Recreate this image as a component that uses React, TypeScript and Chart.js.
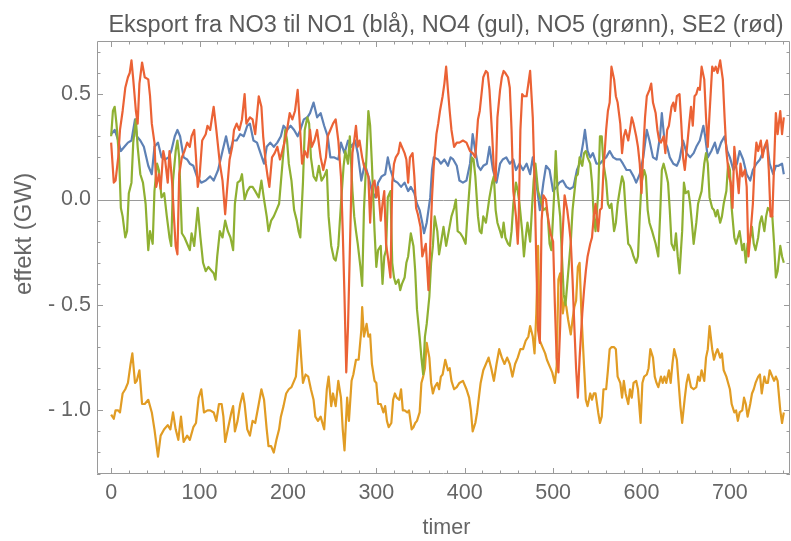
import React, { useEffect, useRef } from 'react';
import { Chart, registerables } from 'chart.js';

Chart.register(...registerables);

const chartTitle = 'Eksport fra NO3 til NO1 (blå), NO4 (gul), NO5 (grønn), SE2 (rød)';
const xAxisTitle = 'timer';
const yAxisTitle = 'effekt (GW)';
const xMajorTicks = [0, 100, 200, 300, 400, 500, 600, 700];
const yMajorTicks = [-1.0, -0.5, 0.0, 0.5];

// [hour, GW]
const NO1: [number, number][] = [
  [0,0.31],[4,0.33],[8,0.28],[11,0.23],[15,0.25],[19,0.27],[23,0.28],[27,0.38],[29,0.3],[33,0.28],[37,0.25],[42,0.16],[46,0.12],[49,0.25],[53,0.27],[57,0.2],[61,0.19],[65,0.2],[68,0.23],[72,0.3],[75,0.33],[78,0.3],[82,0.2],[86,0.19],[89,0.17],[93,0.16],[97,0.11],[102,0.08],[107,0.09],[112,0.11],
  [116,0.09],[121,0.14],[126,0.23],[130,0.3],[134,0.22],[138,0.28],[142,0.28],[146,0.31],[150,0.3],[154,0.35],[157,0.36],[161,0.28],[165,0.27],[169,0.22],[173,0.17],[176,0.25],[180,0.27],[184,0.25],[188,0.27],[192,0.3],[195,0.35],[199,0.33],[203,0.35],[207,0.33],[211,0.3],[214,0.33],[218,0.38],[222,0.39],[225,0.41],[229,0.46],[233,0.39],[237,0.41],[241,0.35],[245,0.3],[248,0.2],[252,0.2],
  [257,0.19],[260,0.27],[264,0.22],[268,0.28],[272,0.25],[276,0.28],[279,0.22],[283,0.09],[287,0.17],[291,0.11],[295,0.04],[299,0.01],[302,0.08],[306,0.11],[310,0.12],[313,0.2],[316,0.14],[320,0.09],[324,0.08],[328,0.06],[332,0.08],[336,0.04],[339,0.06],[343,0.03],[346,-0.02],[349,-0.05],[352,-0.11],[354,-0.16],[357,-0.11],[361,0.01],[363,0.14],[365,0.2],[370,0.19],[373,0.17],[377,0.19],[381,0.16],[384,0.2],
  [387,0.19],[391,0.16],[394,0.09],[398,0.08],[402,0.09],[406,0.17],[409,0.31],[412,0.23],[415,0.16],[418,0.14],[421,0.16],[425,0.17],[428,0.25],[432,0.14],[436,0.08],[440,0.17],[443,0.19],[447,0.2],[451,0.17],[455,0.19],[458,0.14],[462,0.17],[466,0.14],[470,0.17],[474,0.12],[477,0.2],[481,0.08],[485,-0.05],[489,0.08],[492,0.16],[496,0.14],[500,0.04],[504,0.06],[507,0.08],[511,0.09],[515,0.06],[519,0.05],
  [523,0.06],[527,0.14],[530,0.17],[534,0.27],[536,0.33],[539,0.23],[542,0.2],[545,0.22],[549,0.17],[553,0.17],[557,0.19],[560,0.2],[564,0.23],[568,0.2],[572,0.19],[576,0.19],[579,0.17],[583,0.14],[587,0.14],[591,0.11],[594,0.08],[598,0.12],[602,0.2],[606,0.33],[609,0.28],[613,0.2],[617,0.19],[621,0.3],[623,0.41],[626,0.28],[629,0.25],[632,0.2],[636,0.17],[640,0.16],[643,0.19],[647,0.28],[651,0.22],[655,0.2],
  [659,0.22],[662,0.25],[666,0.28],[670,0.35],[672,0.3],[675,0.2],[679,0.23],[683,0.27],[686,0.22],[690,0.27],[694,0.3],[697,0.23],[700,0.2],[704,0.14],[708,0.17],[711,0.23],[715,0.19],[719,0.12],[723,0.09],[726,0.14],[730,0.17],[734,0.19],[738,0.23],[742,0.27],[745,0.17],[749,0.12],[752,0.16],[755,0.16],[759,0.17],[761,0.12],
];

const NO4: [number, number][] = [
  [0,-1.02],[3,-1.04],[5,-1.0],[8,-1.0],[10,-1.01],[13,-0.92],[16,-0.9],[19,-0.87],[22,-0.78],[24,-0.73],[27,-0.87],[29,-0.86],[32,-0.81],[35,-0.97],[38,-0.97],[42,-0.95],[46,-1.01],[49,-1.09],[53,-1.22],[56,-1.12],[60,-1.09],[64,-1.07],[67,-1.09],[70,-1.01],[73,-1.09],[76,-1.14],[79,-1.03],[82,-1.15],[86,-1.12],[89,-1.14],[93,-1.08],[96,-1.06],[99,-0.94],[102,-0.9],[105,-1.01],[109,-1.0],[112,-1.0],
  [116,-1.01],[119,-1.05],[122,-0.97],[125,-0.97],[127,-1.03],[129,-1.15],[132,-1.09],[136,-1.01],[138,-0.98],[140,-1.1],[143,-1.05],[146,-0.97],[149,-0.92],[151,-0.97],[154,-1.09],[157,-1.12],[160,-1.05],[163,-1.06],[167,-0.97],[170,-0.9],[173,-0.95],[176,-1.09],[178,-1.17],[181,-1.17],[184,-1.2],[187,-1.14],[190,-1.09],[192,-1.03],[195,-0.98],[198,-0.92],[201,-0.9],[204,-0.89],[207,-0.86],[209,-0.84],[211,-0.73],[213,-0.62],[215,-0.75],[217,-0.87],[220,-0.83],[223,-0.84],[226,-0.9],[229,-0.95],[231,-1.03],[234,-1.05],[237,-1.03],[241,-1.09],[244,-0.9],[246,-0.84],[249,-0.98],
  [251,-0.92],[254,-0.98],[257,-0.86],[260,-0.94],[262,-1.09],[264,-1.19],[267,-0.94],[269,-1.05],[272,-0.86],[274,-0.83],[277,-0.76],[280,-0.76],[283,-0.62],[284,-0.51],[286,-0.65],[289,-0.59],[291,-0.65],[293,-0.64],[295,-0.78],[298,-0.86],[300,-0.87],[302,-0.97],[305,-0.97],[308,-1.01],[310,-0.98],[312,-1.05],[314,-1.08],[317,-1.06],[319,-0.95],[321,-0.92],[323,-0.94],[326,-0.95],[328,-0.9],[330,-1.0],[332,-1.0],[335,-1.01],[337,-1.0],[340,-1.09],[342,-1.08],[344,-1.06],[346,-1.05],[349,-1.01],[351,-0.87],[353,-0.84],[355,-0.8],[357,-0.68],[360,-0.75],[362,-0.87],[364,-0.92],[366,-0.89],[369,-0.87],[371,-0.9],[373,-0.84],[375,-0.83],[378,-0.76],[381,-0.81],[383,-0.8],[385,-0.86],[388,-0.9],
  [391,-0.89],[394,-0.87],[398,-0.86],[402,-0.9],[405,-0.94],[407,-1.0],[409,-1.1],[412,-1.06],[414,-1.01],[416,-0.94],[418,-0.87],[421,-0.81],[424,-0.78],[427,-0.75],[430,-0.8],[433,-0.86],[436,-0.78],[439,-0.71],[442,-0.75],[445,-0.78],[448,-0.75],[451,-0.78],[454,-0.84],[457,-0.78],[460,-0.75],[463,-0.71],[466,-0.71],[469,-0.67],[472,-0.65],[474,-0.6],[477,-0.65],[479,-0.73],[481,-0.54],[483,-0.22],[485,-0.67],[488,-0.7],[491,-0.73],[493,-0.76],[496,-0.79],[499,-0.82],[502,-0.87],[504,-0.79],[506,-0.38],[508,-0.35],[511,-0.54],[513,-0.48],[515,-0.51],[517,-0.57],[520,-0.64],[522,-0.57],[524,-0.51],[526,-0.48],[528,-0.32],[530,-0.3],[532,-0.54],[535,-0.79],[537,-0.95],[539,-0.98],
  [542,-0.92],[544,-0.95],[546,-0.92],[548,-0.92],[551,-1.01],[553,-1.06],[555,-1.03],[557,-0.9],[560,-0.9],[562,-0.81],[564,-0.71],[566,-0.7],[569,-0.7],[571,-0.71],[573,-0.84],[576,-0.87],[578,-0.94],[580,-0.86],[582,-0.92],[585,-0.97],[587,-0.9],[589,-0.94],[591,-0.87],[594,-0.86],[596,-0.9],[599,-1.06],[601,-0.87],[603,-0.84],[606,-0.83],[608,-0.8],[610,-0.71],[613,-0.75],[615,-0.84],[617,-0.87],[619,-0.89],[622,-0.84],[624,-0.87],[626,-0.84],[628,-0.87],[631,-0.81],[633,-0.87],[635,-0.78],[637,-0.71],[640,-0.76],[642,-0.87],[644,-0.98],[646,-1.06],[649,-0.94],[651,-0.87],[653,-0.83],[656,-0.89],
  [659,-0.9],[662,-0.89],[664,-0.84],[666,-0.86],[668,-0.81],[671,-0.86],[673,-0.75],[675,-0.71],[677,-0.6],[680,-0.71],[682,-0.76],[684,-0.73],[686,-0.71],[689,-0.75],[691,-0.73],[693,-0.81],[696,-0.84],[698,-0.87],[700,-0.9],[702,-0.97],[705,-1.01],[707,-1.0],[709,-1.05],[711,-1.01],[714,-1.0],[716,-0.94],[718,-0.97],[720,-1.03],[723,-0.97],[725,-0.92],[727,-0.9],[729,-0.87],[732,-0.84],[734,-0.83],[736,-0.92],[739,-0.84],[741,-0.87],[743,-0.87],[745,-0.81],[748,-0.84],[750,-0.86],[752,-0.84],[754,-0.86],[757,-1.0],[759,-1.06],[761,-1.01],
];

const NO5: [number, number][] = [
  [0,0.3],[2,0.42],[4,0.44],[6,0.36],[9,0.2],[11,-0.04],[13,-0.08],[16,-0.18],[18,-0.15],[20,0.03],[23,0.08],[25,0.27],[28,0.38],[30,0.25],[33,0.12],[36,0.08],[39,-0.02],[42,-0.24],[44,-0.15],[47,-0.21],[49,0.04],[52,0.17],[54,0.14],[57,0.01],[60,0.03],[63,-0.08],[66,-0.18],[68,-0.22],[70,0.09],[73,0.23],[75,0.28],[77,0.2],[80,-0.16],[83,-0.18],[86,-0.21],[89,-0.24],[91,-0.16],[94,-0.22],[96,-0.13],[98,-0.04],[101,-0.18],[104,-0.3],[107,-0.34],[110,-0.32],[114,-0.34],
  [116,-0.35],[118,-0.38],[120,-0.27],[123,-0.15],[126,-0.18],[129,-0.1],[132,-0.15],[135,-0.18],[138,-0.24],[140,-0.02],[143,0.08],[146,0.09],[148,0.12],[151,0.0],[154,0.04],[157,0.06],[160,0.06],[163,0.04],[167,0.01],[170,0.09],[173,0.0],[176,-0.08],[178,-0.15],[181,-0.1],[184,-0.08],[187,-0.05],[190,-0.02],[192,0.08],[195,0.23],[197,0.33],[199,0.28],[201,0.17],[204,0.09],[207,-0.05],[210,-0.1],[212,-0.15],[214,-0.18],[217,0.08],[219,0.33],[222,0.39],[224,0.36],[226,0.2],[229,0.11],[232,0.09],[235,0.16],[238,0.09],[241,0.11],[244,0.14],[246,-0.08],[249,-0.22],[252,-0.28],
  [254,-0.29],[257,-0.22],[260,-0.02],[263,0.16],[265,0.23],[268,0.17],[270,0.3],[273,0.04],[275,-0.08],[277,-0.15],[279,-0.21],[282,-0.32],[284,-0.41],[286,-0.05],[289,0.22],[291,0.42],[293,0.35],[295,0.17],[298,-0.15],[300,-0.32],[302,-0.24],[305,-0.22],[307,-0.4],[309,-0.27],[311,-0.24],[313,0.01],[316,0.04],[318,-0.3],[320,-0.37],[322,-0.4],[325,-0.38],[327,-0.43],[329,-0.4],[332,-0.37],[334,-0.3],[336,-0.27],[339,-0.16],[342,-0.22],[344,-0.34],[346,-0.52],[349,-0.65],[351,-0.75],[353,-0.83],[355,-0.65],[357,-0.59],[360,-0.46],[362,-0.3],[364,-0.22],[366,-0.08],[369,-0.15],[371,-0.26],[373,-0.21],[376,-0.13],[379,-0.22],[382,-0.15],[385,-0.08],[388,-0.04],
  [390,0.0],[392,-0.15],[395,-0.16],[398,-0.18],[401,-0.21],[403,-0.08],[406,0.09],[408,0.2],[410,0.19],[412,0.11],[415,-0.08],[417,-0.15],[419,-0.16],[421,-0.08],[424,-0.11],[426,-0.05],[428,0.01],[431,0.08],[433,0.11],[435,-0.05],[437,-0.11],[440,-0.15],[442,-0.18],[444,-0.11],[446,-0.18],[449,-0.21],[451,-0.22],[453,-0.15],[455,-0.02],[458,0.08],[460,0.04],[462,-0.02],[465,-0.15],[467,-0.27],[469,-0.18],[471,-0.11],[474,-0.2],[476,-0.05],[478,0.09],[480,0.17],[483,0.04],[485,0.01],[487,-0.02],[489,-0.05],[492,-0.04],[494,-0.08],[496,-0.21],[498,-0.24],[501,0.01],[503,0.23],[505,0.04],[508,-0.08],[510,-0.27],[512,-0.45],[514,-0.5],[516,-0.4],[518,-0.3],[520,-0.2],[522,-0.05],[524,0.03],[526,0.11],
  [528,0.12],[530,0.2],[533,0.16],[535,0.22],[537,0.23],[539,0.2],[542,0.17],[544,0.08],[546,-0.08],[548,-0.15],[551,0.03],[553,0.3],[555,0.3],[557,0.17],[560,0.09],[562,-0.02],[564,-0.04],[566,-0.02],[569,-0.15],[571,-0.11],[573,-0.02],[576,0.06],[578,0.11],[580,0.08],[582,-0.05],[585,-0.21],[587,-0.22],[589,-0.24],[591,-0.27],[594,-0.3],[596,-0.27],[598,-0.08],[600,0.08],[603,0.14],[605,0.11],[607,-0.05],[609,-0.11],[612,-0.15],[614,-0.18],[616,-0.21],[619,-0.27],[621,-0.08],[623,0.14],[625,0.17],[628,0.12],[630,0.08],[632,-0.05],[634,-0.21],[637,-0.24],[639,-0.16],[641,-0.27],[643,-0.35],[646,-0.15],[648,0.08],[650,0.03],[653,0.04],
  [655,-0.02],[657,-0.11],[659,-0.21],[662,-0.11],[664,-0.02],[666,0.01],[668,0.04],[671,0.17],[673,0.22],[675,0.17],[677,0.01],[680,-0.04],[682,-0.05],[684,-0.08],[686,-0.05],[689,-0.11],[691,-0.08],[693,-0.02],[696,0.04],[698,0.17],[700,0.14],[702,-0.04],[705,-0.18],[707,-0.21],[709,-0.18],[711,-0.15],[714,-0.24],[716,-0.21],[718,-0.3],[720,-0.21],[723,-0.18],[725,-0.13],[727,-0.21],[729,-0.24],[732,-0.18],[734,-0.11],[736,-0.08],[739,-0.15],[741,-0.08],[743,-0.04],[745,-0.05],[748,-0.08],[750,-0.21],[752,-0.37],[754,-0.34],[757,-0.22],[759,-0.27],[761,-0.3],
];

const SE2: [number, number][] = [
  [0,0.27],[3,0.08],[5,0.09],[8,0.2],[10,0.33],[13,0.42],[16,0.53],[19,0.58],[21,0.6],[23,0.66],[25,0.57],[28,0.42],[30,0.36],[32,0.55],[35,0.65],[38,0.58],[42,0.57],[44,0.49],[46,0.36],[49,0.27],[51,0.06],[54,0.12],[56,0.05],[59,0.23],[61,0.19],[64,0.08],[66,0.23],[69,0.08],[71,-0.08],[73,-0.22],[75,-0.26],[77,0.12],[80,0.2],[83,0.23],[86,0.27],[89,0.25],[91,0.3],[94,0.33],[96,0.2],[98,0.06],[100,0.11],[103,0.28],[107,0.31],[109,0.35],[112,0.33],
  [116,0.44],[119,0.33],[123,0.17],[126,0.09],[129,-0.07],[131,0.04],[134,0.19],[137,0.25],[139,0.33],[142,0.36],[145,0.33],[148,0.38],[151,0.5],[153,0.36],[157,0.39],[160,0.38],[163,0.31],[167,0.49],[170,0.44],[172,0.3],[175,0.17],[177,0.11],[179,0.06],[182,0.2],[185,0.22],[188,0.25],[191,0.19],[193,0.22],[196,0.27],[199,0.33],[202,0.41],[205,0.38],[208,0.42],[211,0.52],[213,0.39],[216,0.17],[219,0.23],[222,0.2],[225,0.33],[227,0.25],[230,0.28],[233,0.33],[237,0.2],[240,0.14],[243,0.2],[245,0.3],[248,0.33],
  [251,0.36],[254,0.38],[257,0.28],[260,0.11],[262,-0.15],[264,-0.46],[266,-0.82],[268,-0.6],[270,-0.25],[272,0.1],[273,0.22],[275,0.28],[277,0.35],[279,0.25],[281,0.28],[284,0.2],[286,0.16],[288,0.14],[291,0.11],[293,-0.11],[295,0.06],[298,0.09],[300,0.01],[302,0.06],[305,-0.1],[307,-0.02],[309,0.04],[311,-0.21],[313,-0.27],[316,-0.37],[318,0.08],[320,0.17],[322,0.2],[325,0.22],[327,0.27],[329,0.25],[332,0.22],[334,0.19],[336,0.08],[338,0.2],[341,0.22],[343,0.11],[345,-0.04],[347,-0.07],[350,-0.13],[352,-0.27],[354,-0.24],[356,-0.21],[359,-0.43],[361,-0.22],[363,0.01],[365,0.16],[368,0.31],[370,0.36],[372,0.42],[375,0.49],[377,0.55],[379,0.63],[381,0.52],[383,0.42],[385,0.33],[388,0.25],
  [391,0.27],[394,0.27],[398,0.28],[402,0.27],[406,0.23],[409,0.22],[412,0.2],[415,0.38],[417,0.42],[419,0.5],[421,0.58],[424,0.61],[426,0.6],[428,0.52],[431,0.31],[433,0.14],[435,0.09],[437,0.39],[440,0.52],[442,0.58],[444,0.61],[446,0.6],[449,0.58],[451,0.53],[453,0.33],[455,0.04],[458,-0.08],[460,-0.21],[461,-0.11],[463,0.33],[465,0.5],[467,0.49],[470,0.49],[472,0.55],[474,0.61],[477,0.39],[479,0.09],[481,-0.3],[483,-0.62],[485,-0.68],[487,-0.1],[489,0.02],[492,0.0],[494,-0.08],[497,-0.16],[500,-0.2],[502,-0.5],[504,-0.75],[506,-0.82],[508,-0.6],[510,-0.22],[513,0.02],[516,-0.05],[518,-0.12],[520,-0.2],[522,-0.38],[524,-0.6],[526,-0.8],[528,-0.94],[530,-0.75],[533,-0.54],[535,-0.43],[537,-0.34],[539,-0.27],
  [542,-0.21],[544,-0.18],[546,-0.08],[548,-0.02],[551,-0.15],[553,-0.05],[555,-0.04],[557,0.14],[560,0.33],[562,0.42],[564,0.46],[566,0.63],[569,0.57],[571,0.49],[573,0.46],[576,0.36],[578,0.22],[580,0.3],[582,0.33],[585,0.28],[587,0.33],[589,0.39],[591,0.36],[594,0.3],[596,0.25],[598,0.17],[600,0.03],[602,0.23],[604,0.39],[606,0.49],[609,0.52],[611,0.55],[613,0.46],[616,0.41],[618,0.33],[620,0.28],[622,0.27],[625,0.3],[627,0.22],[629,0.33],[631,0.35],[634,0.44],[636,0.46],[638,0.42],[640,0.49],[643,0.5],[645,0.36],[647,0.2],[649,0.14],[652,0.27],[654,0.36],[656,0.44],
  [658,0.35],[660,0.49],[662,0.5],[664,0.53],[666,0.52],[668,0.63],[671,0.57],[673,0.39],[675,0.25],[677,0.41],[680,0.63],[682,0.61],[684,0.63],[686,0.6],[689,0.66],[692,0.57],[694,0.39],[696,0.23],[699,0.11],[701,0.08],[703,-0.04],[705,0.25],[708,0.12],[710,0.03],[712,0.17],[714,0.11],[717,0.14],[719,0.06],[721,-0.27],[723,-0.18],[726,-0.02],[728,0.17],[730,0.27],[732,0.23],[735,0.28],[737,0.2],[739,0.25],[742,0.28],[744,0.14],[746,-0.08],[748,-0.08],[752,0.41],[754,0.31],[757,0.42],[759,0.31],[761,0.39],
];

const colorNO1 = '#5E81B5';
const colorNO4 = '#E19C24';
const colorNO5 = '#8FB032';
const colorSE2 = '#EB6235';

const X_MIN = -16;
const X_MAX = 768;
const Y_MIN = -1.302;
const Y_MAX = 0.752;

const FONT = '"Liberation Sans", Arial, sans-serif';
const FRAME_COLOR = '#9a9a9a';
const LABEL_COLOR = '#666666';

const toPoints = (arr: [number, number][]) => arr.map(([x, y]) => ({ x, y }));

const framePlugin = {
  id: 'mmaFrame',
  beforeDatasetsDraw(chart: any) {
    const { ctx, chartArea, scales } = chart;
    const y0 = scales.y.getPixelForValue(0);
    ctx.save();
    ctx.strokeStyle = FRAME_COLOR;
    ctx.lineWidth = 1;
    ctx.beginPath();
    ctx.moveTo(chartArea.left, Math.round(y0) + 0.5);
    ctx.lineTo(chartArea.right, Math.round(y0) + 0.5);
    ctx.stroke();
    ctx.restore();
  },
  afterDatasetsDraw(chart: any) {
    const { ctx, chartArea, scales } = chart;
    const { left, right, top, bottom } = chartArea;
    ctx.save();
    ctx.strokeStyle = FRAME_COLOR;
    ctx.lineWidth = 1;
    ctx.beginPath();
    ctx.rect(Math.round(left) + 0.5, Math.round(top) + 0.5, Math.round(right - left) - 1, Math.round(bottom - top) - 1);
    ctx.stroke();
    ctx.beginPath();
    for (let v = 0; v <= 760; v += 20) {
      const px = Math.round(scales.x.getPixelForValue(v)) + 0.5;
      const len = v % 100 === 0 ? 6 : 3.5;
      ctx.moveTo(px, bottom);
      ctx.lineTo(px, bottom - len);
      ctx.moveTo(px, top);
      ctx.lineTo(px, top + len);
    }
    for (let i = -13; i <= 7; i++) {
      const v = i / 10;
      const py = Math.round(scales.y.getPixelForValue(v)) + 0.5;
      const len = i % 5 === 0 ? 6 : 3.5;
      ctx.moveTo(left, py);
      ctx.lineTo(left + len, py);
      ctx.moveTo(right, py);
      ctx.lineTo(right - len, py);
    }
    ctx.stroke();

    ctx.textAlign = 'center';
    ctx.textBaseline = 'alphabetic';
    ctx.fillStyle = '#5a5a5a';
    ctx.font = `23.5px ${FONT}`;
    ctx.fillText(chartTitle, (left + right) / 2 + 2.5, 32);

    ctx.fillStyle = LABEL_COLOR;
    ctx.font = `21.5px ${FONT}`;
    ctx.fillText(xAxisTitle, (left + right) / 2 + 3, 534);

    ctx.font = `24px ${FONT}`;
    ctx.translate(31, 234);
    ctx.rotate(-Math.PI / 2);
    ctx.fillText(yAxisTitle, 0, 0);
    ctx.restore();
  },
};

export default function App() {
  const canvasRef = useRef<HTMLCanvasElement | null>(null);

  useEffect(() => {
    document.body.style.margin = '0';
    const canvas = canvasRef.current;
    if (!canvas) return;
    const chart = new Chart(canvas, {
      type: 'line',
      data: {
        datasets: [
          { label: 'NO1', data: toPoints(NO1), borderColor: colorNO1, order: 3 },
          { label: 'NO4', data: toPoints(NO4), borderColor: colorNO4, order: 2 },
          { label: 'NO5', data: toPoints(NO5), borderColor: colorNO5, order: 1 },
          { label: 'SE2', data: toPoints(SE2), borderColor: colorSE2, order: 0 },
        ].map((d) => ({
          ...d,
          borderWidth: 2.2,
          pointRadius: 0,
          tension: 0,
          fill: false,
          borderJoinStyle: 'round' as const,
        })),
      },
      options: {
        animation: false,
        responsive: false,
        devicePixelRatio: 1,
        layout: { padding: { top: 41, right: 1, left: 0, bottom: 0 } },
        plugins: {
          legend: { display: false },
          title: { display: false },
          tooltip: { enabled: false },
        },
        scales: {
          x: {
            type: 'linear',
            min: X_MIN,
            max: X_MAX,
            grid: { display: false, drawTicks: false },
            border: { display: false },
            afterBuildTicks: (scale: any) => {
              scale.ticks = xMajorTicks.map((value) => ({ value }));
            },
            afterFit: (scale: any) => {
              scale.height = 67;
            },
            ticks: {
              color: LABEL_COLOR,
              font: { family: FONT, size: 21.5 },
              padding: 6,
              maxRotation: 0,
              autoSkip: false,
              callback: (v: any) => String(v),
            },
          },
          y: {
            type: 'linear',
            min: Y_MIN,
            max: Y_MAX,
            grid: { display: false, drawTicks: false },
            border: { display: false },
            afterBuildTicks: (scale: any) => {
              scale.ticks = yMajorTicks.map((value) => ({ value }));
            },
            afterFit: (scale: any) => {
              scale.width = 97;
            },
            ticks: {
              color: LABEL_COLOR,
              font: { family: FONT, size: 21.5 },
              padding: 6,
              autoSkip: false,
              callback: (v: any) => {
                const n = Number(v);
                return n < 0 ? '- ' + Math.abs(n).toFixed(1) : n.toFixed(1);
              },
            },
          },
        },
      },
      plugins: [framePlugin],
    });
    return () => chart.destroy();
  }, []);

  return (
    <div style={{ width: 791, height: 541 }}>
      <canvas ref={canvasRef} width={791} height={541} style={{ width: 791, height: 541, display: 'block' }} />
    </div>
  );
}
